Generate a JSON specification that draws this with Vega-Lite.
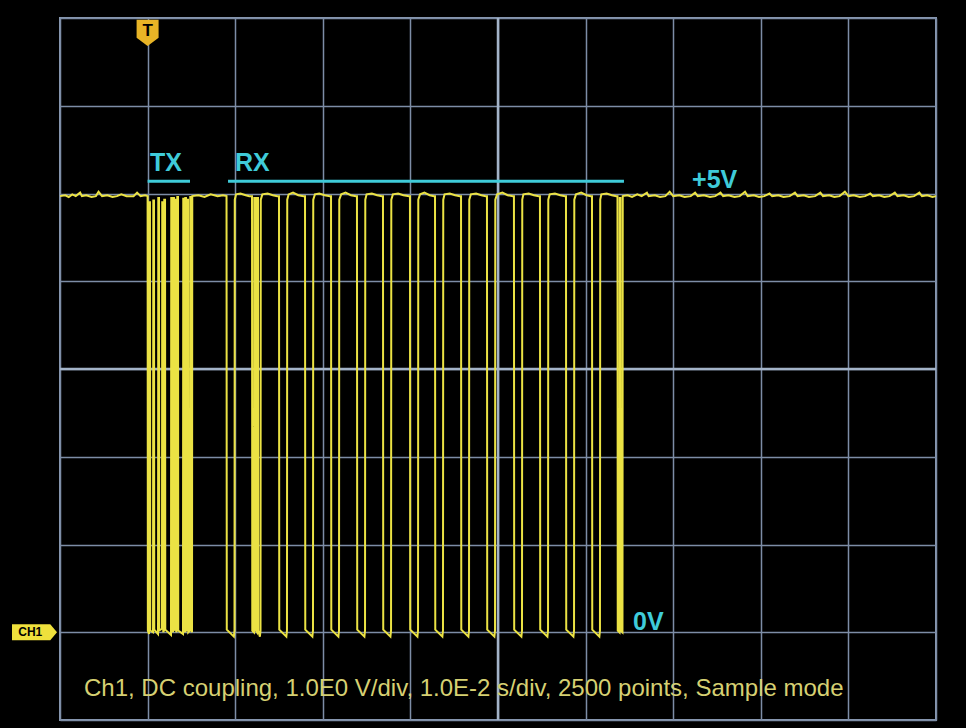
{
  "$schema": "https://vega.github.io/schema/vega-lite/v6.json",
  "width": 876,
  "height": 702,
  "autosize": {"type": "none"},
  "padding": {"left": 60, "top": 18, "right": 30, "bottom": 8},
  "background": "#000000",
  "config": {
    "view": {"stroke": "#8a9ab2", "strokeWidth": 2},
    "axis": {"labels": false, "ticks": false, "domain": false, "title": null, "grid": true, "gridColor": "#7d8da6", "gridWidth": 1.5, "gridOpacity": 1}
  },
  "encoding": {
    "x": {"field": "t", "type": "quantitative", "scale": {"domain": [-10, 90], "nice": false, "zero": false}, "axis": {"values": [-10, 0, 10, 20, 30, 40, 50, 60, 70, 80, 90]}},
    "y": {"field": "v", "type": "quantitative", "scale": {"domain": [-1, 7], "nice": false, "zero": false}, "axis": {"values": [-1, 0, 1, 2, 3, 4, 5, 6, 7]}}
  },
  "layer": [
    {
      "data": {"values": [
        {"t": 40, "t2": 40, "v": -1, "v2": 7},
        {"t": -10, "t2": 90, "v": 3, "v2": 3}
      ]},
      "mark": {"type": "rule", "color": "#a3b3c8", "strokeWidth": 2.5},
      "encoding": {"x2": {"field": "t2"}, "y2": {"field": "v2"}}
    },
    {
      "data": {"values": [
        {"t": 0, "t2": 4.84, "v": 5.14, "v2": 5.14},
        {"t": 9.18, "t2": 54.38, "v": 5.14, "v2": 5.14}
      ]},
      "mark": {"type": "rule", "color": "#3fcbd9", "strokeWidth": 3},
      "encoding": {"x2": {"field": "t2"}, "y2": {"field": "v2"}}
    },
    {
      "data": {"values": [
        {"t": -10.0, "v": 4.97}, {"t": -9.4, "v": 4.98}, {"t": -9.0, "v": 4.96}, {"t": -8.6, "v": 4.99}, {"t": -8.2, "v": 4.97}, {"t": -7.7, "v": 5.01}, {"t": -7.5, "v": 4.97}, {"t": -7.0, "v": 4.98}, {"t": -6.4, "v": 4.96}, {"t": -5.9, "v": 4.97}, {"t": -5.6, "v": 5.02}, {"t": -5.2, "v": 4.97}, {"t": -4.6, "v": 4.98}, {"t": -4.0, "v": 4.96}, {"t": -3.5, "v": 4.97}, {"t": -3.0, "v": 4.99}, {"t": -2.4, "v": 4.97}, {"t": -1.6, "v": 4.97}, {"t": -1.2, "v": 5.01}, {"t": -0.8, "v": 4.97}, {"t": -0.3, "v": 4.98},
        {"t": 0, "v": 4.97}, {"t": 0.03, "v": 0.02},
        {"t": 0.16, "v": -0.02}, {"t": 0.19, "v": 4.9},
        {"t": 0.27, "v": 4.9}, {"t": 0.30, "v": 0.02},
        {"t": 0.62, "v": 0.0}, {"t": 0.65, "v": 4.92},
        {"t": 0.73, "v": 4.92}, {"t": 0.76, "v": 0.03},
        {"t": 1.19, "v": -0.02}, {"t": 1.22, "v": 4.95},
        {"t": 1.30, "v": 4.95}, {"t": 1.33, "v": 0.02},
        {"t": 1.64, "v": 0.04}, {"t": 1.67, "v": 4.9},
        {"t": 1.76, "v": 4.9}, {"t": 1.79, "v": 0.0},
        {"t": 1.87, "v": 0.02}, {"t": 1.90, "v": 4.93},
        {"t": 1.99, "v": 4.93}, {"t": 2.02, "v": 0.03},
        {"t": 2.67, "v": -0.03}, {"t": 2.70, "v": 4.95},
        {"t": 2.79, "v": 4.95}, {"t": 2.82, "v": 0.02},
        {"t": 2.90, "v": 0.0}, {"t": 2.93, "v": 4.95},
        {"t": 3.01, "v": 4.95}, {"t": 3.04, "v": 0.04},
        {"t": 3.13, "v": 0.02}, {"t": 3.16, "v": 4.93},
        {"t": 3.24, "v": 4.93}, {"t": 3.27, "v": 0.0},
        {"t": 3.36, "v": 0.03}, {"t": 3.39, "v": 4.96},
        {"t": 3.47, "v": 4.96}, {"t": 3.50, "v": 0.02},
        {"t": 4.04, "v": -0.02}, {"t": 4.07, "v": 4.94},
        {"t": 4.16, "v": 4.94}, {"t": 4.19, "v": 0.03},
        {"t": 4.27, "v": 0.0}, {"t": 4.30, "v": 4.95},
        {"t": 4.38, "v": 4.95}, {"t": 4.41, "v": 0.02},
        {"t": 4.50, "v": 0.03}, {"t": 4.53, "v": 4.93},
        {"t": 4.61, "v": 4.93}, {"t": 4.64, "v": 0.0},
        {"t": 4.84, "v": 0.02}, {"t": 4.87, "v": 4.96},
        {"t": 4.95, "v": 4.96}, {"t": 4.98, "v": 0.03},
        {"t": 5.07, "v": 0.0}, {"t": 5.10, "v": 4.97},
        {"t": 5.8, "v": 4.98}, {"t": 6.5, "v": 4.96}, {"t": 7.2, "v": 4.99}, {"t": 8.0, "v": 4.97}, {"t": 8.6, "v": 4.98},
        {"t": 9.01, "v": 4.97}, {"t": 9.04, "v": 0.03}, {"t": 9.85, "v": -0.05}, {"t": 9.92, "v": 0.02}, {"t": 9.95, "v": 4.93}, {"t": 10.1, "v": 4.99}, {"t": 10.6, "v": 5.0}, {"t": 11.2, "v": 4.98}, {"t": 11.6, "v": 4.97},
        {"t": 11.92, "v": 4.97}, {"t": 11.95, "v": 0.02}, {"t": 12.15, "v": 0.0}, {"t": 12.18, "v": 4.95}, {"t": 12.32, "v": 4.95}, {"t": 12.35, "v": 0.02}, {"t": 12.49, "v": 0.0}, {"t": 12.52, "v": 4.95}, {"t": 12.60, "v": 4.95}, {"t": 12.63, "v": 0.02}, {"t": 12.82, "v": -0.05}, {"t": 12.89, "v": 0.02}, {"t": 12.92, "v": 4.93}, {"t": 13.1, "v": 4.99}, {"t": 13.7, "v": 5.0}, {"t": 14.3, "v": 4.98}, {"t": 14.8, "v": 4.97},
        {"t": 15.00, "v": 4.97}, {"t": 15.03, "v": 0.03}, {"t": 15.84, "v": -0.05}, {"t": 15.91, "v": 0.02}, {"t": 15.94, "v": 4.93}, {"t": 16.1, "v": 4.99}, {"t": 16.6, "v": 5.01}, {"t": 17.2, "v": 4.98}, {"t": 17.8, "v": 4.97},
        {"t": 17.97, "v": 4.97}, {"t": 18.00, "v": 0.03}, {"t": 18.81, "v": -0.05}, {"t": 18.88, "v": 0.02}, {"t": 18.91, "v": 4.93}, {"t": 19.1, "v": 4.99}, {"t": 19.6, "v": 5.0}, {"t": 20.2, "v": 4.98}, {"t": 20.8, "v": 4.97},
        {"t": 20.94, "v": 4.97}, {"t": 20.97, "v": 0.03}, {"t": 21.78, "v": -0.05}, {"t": 21.85, "v": 0.02}, {"t": 21.88, "v": 4.93}, {"t": 22.1, "v": 4.99}, {"t": 22.6, "v": 5.01}, {"t": 23.2, "v": 4.98}, {"t": 23.8, "v": 4.97},
        {"t": 23.90, "v": 4.97}, {"t": 23.93, "v": 0.03}, {"t": 24.75, "v": -0.05}, {"t": 24.82, "v": 0.02}, {"t": 24.85, "v": 4.93}, {"t": 25.0, "v": 4.99}, {"t": 25.6, "v": 5.0}, {"t": 26.2, "v": 4.98}, {"t": 26.75, "v": 4.97},
        {"t": 26.87, "v": 4.97}, {"t": 26.90, "v": 0.03}, {"t": 27.72, "v": -0.05}, {"t": 27.79, "v": 0.02}, {"t": 27.82, "v": 4.93}, {"t": 28.0, "v": 4.99}, {"t": 28.6, "v": 5.0}, {"t": 29.2, "v": 4.98}, {"t": 29.85, "v": 4.97},
        {"t": 29.95, "v": 4.97}, {"t": 29.98, "v": 0.03}, {"t": 30.80, "v": -0.05}, {"t": 30.87, "v": 0.02}, {"t": 30.90, "v": 4.93}, {"t": 31.1, "v": 4.99}, {"t": 31.6, "v": 5.01}, {"t": 32.2, "v": 4.98}, {"t": 32.7, "v": 4.97},
        {"t": 32.81, "v": 4.97}, {"t": 32.84, "v": 0.03}, {"t": 33.65, "v": -0.05}, {"t": 33.72, "v": 0.02}, {"t": 33.75, "v": 4.93}, {"t": 33.9, "v": 4.99}, {"t": 34.5, "v": 5.0}, {"t": 35.1, "v": 4.98}, {"t": 35.65, "v": 4.97},
        {"t": 35.78, "v": 4.97}, {"t": 35.81, "v": 0.03}, {"t": 36.62, "v": -0.05}, {"t": 36.69, "v": 0.02}, {"t": 36.72, "v": 4.93}, {"t": 36.9, "v": 4.99}, {"t": 37.5, "v": 5.0}, {"t": 38.1, "v": 4.98}, {"t": 38.6, "v": 4.97},
        {"t": 38.74, "v": 4.97}, {"t": 38.77, "v": 0.03}, {"t": 39.59, "v": -0.05}, {"t": 39.66, "v": 0.02}, {"t": 39.69, "v": 4.93}, {"t": 39.9, "v": 4.99}, {"t": 40.5, "v": 5.01}, {"t": 41.1, "v": 4.98}, {"t": 41.7, "v": 4.97},
        {"t": 41.82, "v": 4.97}, {"t": 41.85, "v": 0.03}, {"t": 42.67, "v": -0.05}, {"t": 42.74, "v": 0.02}, {"t": 42.77, "v": 4.93}, {"t": 42.9, "v": 4.99}, {"t": 43.5, "v": 5.0}, {"t": 44.1, "v": 4.98}, {"t": 44.65, "v": 4.97},
        {"t": 44.79, "v": 4.97}, {"t": 44.82, "v": 0.03}, {"t": 45.64, "v": -0.05}, {"t": 45.71, "v": 0.02}, {"t": 45.74, "v": 4.93}, {"t": 45.9, "v": 4.99}, {"t": 46.5, "v": 5.0}, {"t": 47.1, "v": 4.98}, {"t": 47.65, "v": 4.97},
        {"t": 47.76, "v": 4.97}, {"t": 47.79, "v": 0.03}, {"t": 48.61, "v": -0.05}, {"t": 48.68, "v": 0.02}, {"t": 48.71, "v": 4.93}, {"t": 48.9, "v": 4.99}, {"t": 49.5, "v": 5.01}, {"t": 50.1, "v": 4.98}, {"t": 50.6, "v": 4.97},
        {"t": 50.73, "v": 4.97}, {"t": 50.76, "v": 0.03}, {"t": 51.57, "v": -0.05}, {"t": 51.64, "v": 0.02}, {"t": 51.67, "v": 4.93}, {"t": 51.8, "v": 4.99}, {"t": 52.4, "v": 5.0}, {"t": 53.0, "v": 4.98}, {"t": 53.5, "v": 4.97},
        {"t": 53.64, "v": 4.97}, {"t": 53.67, "v": 0.02}, {"t": 53.87, "v": 0.0}, {"t": 53.90, "v": 4.95}, {"t": 53.98, "v": 4.95}, {"t": 54.01, "v": 0.02}, {"t": 54.21, "v": 0.0}, {"t": 54.24, "v": 4.97},
        {"t": 54.8, "v": 4.98}, {"t": 55.3, "v": 4.96}, {"t": 55.9, "v": 4.99}, {"t": 56.4, "v": 4.97}, {"t": 57.0, "v": 5.01}, {"t": 57.2, "v": 4.97}, {"t": 57.9, "v": 4.98}, {"t": 58.5, "v": 4.96}, {"t": 59.1, "v": 4.97}, {"t": 59.6, "v": 5.02}, {"t": 60.0, "v": 4.97}, {"t": 60.7, "v": 4.98}, {"t": 61.3, "v": 4.96}, {"t": 62.0, "v": 4.97}, {"t": 62.5, "v": 5.01}, {"t": 62.8, "v": 4.97}, {"t": 63.5, "v": 4.98}, {"t": 64.2, "v": 4.96}, {"t": 64.8, "v": 4.97}, {"t": 65.4, "v": 5.01}, {"t": 65.7, "v": 4.97}, {"t": 66.3, "v": 4.98}, {"t": 67.0, "v": 4.96}, {"t": 67.6, "v": 4.97}, {"t": 68.2, "v": 5.02}, {"t": 68.5, "v": 4.97}, {"t": 69.2, "v": 4.98}, {"t": 69.8, "v": 4.96}, {"t": 70.4, "v": 4.97}, {"t": 71.0, "v": 5.0}, {"t": 71.3, "v": 4.97}, {"t": 72.0, "v": 4.98}, {"t": 72.6, "v": 4.96}, {"t": 73.3, "v": 4.97}, {"t": 73.9, "v": 5.01}, {"t": 74.2, "v": 4.97}, {"t": 74.9, "v": 4.98}, {"t": 75.5, "v": 4.96}, {"t": 76.2, "v": 4.97}, {"t": 76.8, "v": 5.01}, {"t": 77.1, "v": 4.97}, {"t": 77.8, "v": 4.98}, {"t": 78.4, "v": 4.96}, {"t": 79.0, "v": 4.97}, {"t": 79.6, "v": 5.02}, {"t": 80.0, "v": 4.97}, {"t": 80.6, "v": 4.98}, {"t": 81.3, "v": 4.96}, {"t": 81.9, "v": 4.97}, {"t": 82.5, "v": 5.0}, {"t": 82.8, "v": 4.97}, {"t": 83.5, "v": 4.98}, {"t": 84.1, "v": 4.96}, {"t": 84.7, "v": 4.97}, {"t": 85.3, "v": 5.01}, {"t": 85.6, "v": 4.97}, {"t": 86.3, "v": 4.98}, {"t": 86.9, "v": 4.96}, {"t": 87.5, "v": 4.97}, {"t": 88.1, "v": 5.01}, {"t": 88.4, "v": 4.97}, {"t": 89.0, "v": 4.98}, {"t": 89.6, "v": 4.96}, {"t": 90.0, "v": 4.97}
      ]},
      "mark": {"type": "line", "color": "#ebe244", "strokeWidth": 2, "interpolate": "linear"},
      "encoding": {"order": {"value": null}}
    },
    {
      "data": {"values": [
        {"t": 0.27, "v": 5.26, "label": "TX"},
        {"t": 9.98, "v": 5.26, "label": "RX"},
        {"t": 62.15, "v": 5.06, "label": "+5V"},
        {"t": 55.41, "v": 0.02, "label": "0V"}
      ]},
      "mark": {"type": "text", "color": "#3fcbd9", "font": "Liberation Sans", "fontWeight": "bold", "fontSize": 25, "align": "left", "baseline": "alphabetic"},
      "encoding": {"text": {"field": "label"}}
    },
    {
      "data": {"values": [
        {"t": -7.26, "v": -0.73, "label": "Ch1, DC coupling, 1.0E0 V/div, 1.0E-2 s/div, 2500 points, Sample mode"}
      ]},
      "mark": {"type": "text", "color": "#d6d072", "font": "Liberation Sans", "fontSize": 24, "align": "left", "baseline": "alphabetic"},
      "encoding": {"text": {"field": "label"}}
    },
    {
      "data": {"values": [{"t": 0, "v": 6.83}]},
      "mark": {"type": "point", "filled": true, "color": "#e8b426", "opacity": 1, "size": 484, "shape": "M-1,-1.2 L1,-1.2 L1,0.45 L0,1.2 L-1,0.45 Z"}
    },
    {
      "data": {"values": [{"t": 0, "v": 6.83, "label": "T"}]},
      "mark": {"type": "text", "color": "#000000", "font": "Liberation Sans", "fontWeight": "bold", "fontSize": 17, "align": "center", "baseline": "middle", "dy": -2},
      "encoding": {"text": {"field": "label"}}
    },
    {
      "data": {"values": [{"t": -12.91, "v": 0}]},
      "mark": {"type": "point", "filled": true, "color": "#efe03c", "opacity": 1, "size": 2025, "shape": "M-1,-0.36 L0.7,-0.36 L1,0 L0.7,0.36 L-1,0.36 Z"}
    },
    {
      "data": {"values": [{"t": -13.4, "v": 0, "label": "CH1"}]},
      "mark": {"type": "text", "color": "#000000", "font": "Liberation Sans", "fontWeight": "bold", "fontSize": 12, "align": "center", "baseline": "middle"},
      "encoding": {"text": {"field": "label"}}
    }
  ]
}
